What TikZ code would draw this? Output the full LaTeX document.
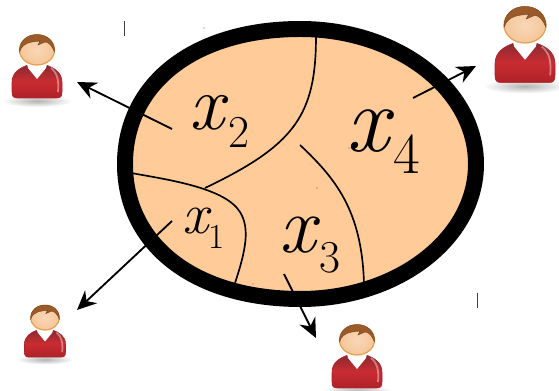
\documentclass[tikz,border=0pt]{standalone}
\usepackage{xcolor}
\usetikzlibrary{arrows.meta}

\definecolor{regionfill}{HTML}{FFCC99}
\definecolor{shirtdark}{HTML}{8A2B30}
\definecolor{shirtmid}{HTML}{C92C32}
\definecolor{shirtlow}{HTML}{AE2228}
\definecolor{hairbrown}{HTML}{9C5A2A}
\definecolor{faceskin}{HTML}{F7CDA6}
\definecolor{faceedge}{HTML}{E8A050}

% variable with its subscript: x-size, sub-size, gap, drop, digit
\newcommand{\partvar}[5]{{\fontsize{#1}{#1}\selectfont\itshape x}\kern#3\lower#4\hbox{\fontsize{#2}{#2}\selectfont #5}}

\tikzset{
  person/.pic={
    \shade[inner color=gray!60,outer color=white] (0,36) ellipse [x radius=35,y radius=6];
    \shade[top color=shirtdark,bottom color=shirtlow,middle color=shirtmid,draw=shirtlow,line width=0.3pt]
      (-25,27) -- (-25,17) .. controls (-25,8) and (-18,3) .. (-9,0) -- (9,0)
      .. controls (18,3) and (25,8) .. (25,17) -- (25,27) .. controls (25,31) and (24,33) .. (20,33)
      -- (-20,33) .. controls (-24,33) and (-25,31) .. (-25,27) -- cycle;
    \fill[white] (-10,-1) -- (10,-1) -- (9,3) -- (0,14) -- (-9,3) -- cycle;
    \draw[white,opacity=0.4,line width=1pt] (14,3) .. controls (20,8) and (22,14) .. (21,27);
    \shade[inner color=faceskin!80!white,outer color=faceskin!85!faceedge,draw=faceedge,line width=0.7pt]
      (0,-15) ellipse [x radius=17.5,y radius=15];
    \fill[hairbrown,draw=hairbrown!70!black,line width=0.2pt]
      (-17.5,-13) .. controls (-18,-24) and (-10,-30.5) .. (0,-30.5)
      .. controls (10,-30.5) and (18,-24) .. (17.5,-13)
      .. controls (15,-19) and (12,-23) .. (8,-23) -- (1,-20) -- (3,-24)
      .. controls (-3,-23) and (-14,-24) .. (-17.5,-13) -- cycle;
  },
  region/.style   ={draw=black,fill=regionfill,line width=9.1pt},
  border/.style   ={-,black,line width=0.95pt},
  leader/.style   ={-{Stealth[length=11pt,width=10pt]},black,line width=1.05pt},
  partlabel/.style={inner sep=0pt,text=black,anchor=base west},
  tick/.style     ={-,black!75,line width=0.5pt},
}

\begin{document}
\begin{tikzpicture}[x=0.02cm,y=-0.02cm]
  \useasboundingbox (0,0) rectangle (559,391);

  % --- the four users ---
  \pic[scale=1.0]  (user2) at (37,65)   {person};
  \pic[scale=1.2]  (user4) at (525,43)  {person};
  \pic[scale=0.82] (user1) at (45,330)  {person};
  \pic[scale=1.0]  (user3) at (357,355) {person};

  % --- disc, fuller on its left side ---
  \draw[region] (125,164) .. controls (125,83) and (195,29) .. (300.5,29)
                .. controls (397,29) and (476,89) .. (476,164)
                .. controls (476,239) and (397,299) .. (300.5,299)
                .. controls (195,299) and (125,245) .. (125,164) -- cycle;

  % borders between the parts
  \coordinate (topend)   at (316,36);
  \coordinate (meet)     at (205,188);
  \coordinate (leftend)  at (131,173);
  \coordinate (bend)     at (240,212);
  \coordinate (lowend)   at (235,283);
  \coordinate (rightbeg) at (300,145);
  \coordinate (rightend) at (364,284);
  \draw[border] (topend) .. controls (316,115) and (295,145) .. (meet);
  \draw[border] (leftend) .. controls (170,180) and (225,188) .. (bend)
                .. controls (250,228) and (246,250) .. (lowend);
  \draw[border] (rightbeg) .. controls (335,178) and (362,210) .. (rightend);

  % --- arrows out to the users ---
  \coordinate (tail2) at (172,129); \coordinate (tip2) at (77,82);
  \coordinate (tail4) at (413,98);  \coordinate (tip4) at (476,66);
  \coordinate (tail1) at (172,221); \coordinate (tip1) at (77,310);
  \coordinate (tail3) at (284,274); \coordinate (tip3) at (316,338);
  \draw[leader] (tail2) -- (tip2);
  \draw[leader] (tail4) -- (tip4);
  \draw[leader] (tail1) -- (tip1);
  \draw[leader] (tail3) -- (tip3);

  % --- part names ---
  \node[partlabel] (x2) at (189,130) {\partvar{44pt}{26pt}{2.5pt}{10pt}{2}};
  \node[partlabel] (x4) at (346,152) {\partvar{54pt}{33pt}{2.5pt}{12.5pt}{4}};
  \node[partlabel] (x1) at (182,234) {\partvar{33pt}{20pt}{0pt}{8pt}{1}};
  \node[partlabel] (x3) at (279,253) {\partvar{46pt}{26pt}{2pt}{11pt}{3}};

  % stray marks
  \coordinate (tickA) at (124,21);  \coordinate (tickB) at (124,36);
  \coordinate (tickC) at (477,293); \coordinate (tickD) at (477,308);
  \draw[tick] (tickA) -- (tickB);
  \draw[tick] (tickC) -- (tickD);
  \foreach \px/\py in {204/28,317/188,349/148,253/284}
    \fill[black!60] (\px,\py) circle [radius=0.7];
\end{tikzpicture}
\end{document}
